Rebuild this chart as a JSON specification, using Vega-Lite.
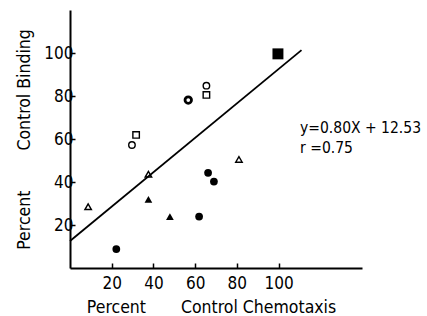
{
  "$schema": "https://vega.github.io/schema/vega-lite/v6.json",
  "autosize": "none",
  "width": 292,
  "height": 258,
  "padding": {"left": 70, "top": 10, "right": 65, "bottom": 48},
  "background": "white",
  "config": {
    "view": {"stroke": null},
    "font": "DejaVu Sans Condensed",
    "axis": {"grid": false, "domainColor": "black", "domainWidth": 2, "tickColor": "black", "tickWidth": 1.5, "labelColor": "black", "titleColor": "black", "labelFont": "DejaVu Sans Condensed", "titleFont": "DejaVu Sans Condensed", "titleFontWeight": "normal"}
  },
  "datasets": {
    "pts": [
      {"x": 29.7, "y": 57.2, "kind": "open", "shape": "circle"},
      {"x": 31.7, "y": 61.9, "kind": "open", "shape": "square"},
      {"x": 65.4, "y": 84.8, "kind": "open", "shape": "circle"},
      {"x": 65.4, "y": 80.5, "kind": "open", "shape": "square"},
      {"x": 8.7, "y": 28.5, "kind": "open", "shape": "triangle-up"},
      {"x": 37.6, "y": 43.6, "kind": "open", "shape": "triangle-up"},
      {"x": 81, "y": 50.5, "kind": "open", "shape": "triangle-up"},
      {"x": 37.6, "y": 31.9, "kind": "filled", "shape": "triangle-up"},
      {"x": 47.9, "y": 23.9, "kind": "filled", "shape": "triangle-up"},
      {"x": 22.2, "y": 8.8, "kind": "filled", "shape": "circle"},
      {"x": 61.9, "y": 23.9, "kind": "filled", "shape": "circle"},
      {"x": 66.2, "y": 44.3, "kind": "filled", "shape": "circle"},
      {"x": 69, "y": 40.2, "kind": "filled", "shape": "circle"},
      {"x": 56.7, "y": 78.1, "kind": "bold", "shape": "circle"},
      {"x": 99.7, "y": 99.6, "kind": "big", "shape": "square"}
    ],
    "fit": [
      {"x": 0, "y": 12.53},
      {"x": 111, "y": 101.33}
    ],
    "notes": [
      {"x": 110.3, "y": 65.1, "label": "y=0.80X + 12.53"},
      {"x": 110.3, "y": 55.8, "label": "r =0.75"}
    ]
  },
  "layer": [
    {
      "data": {"name": "fit"},
      "mark": {"type": "line", "color": "black", "strokeWidth": 1.8},
      "encoding": {
        "x": {"field": "x", "type": "quantitative", "scale": {"domain": [0, 140], "nice": false},
          "axis": {"values": [20, 40, 60, 80, 100], "tickSize": -5, "labelPadding": 12, "labelFontSize": 17, "titleFontSize": 17.5, "titlePadding": 7, "titleX": 141,
            "title": "Percent\u00a0\u00a0\u00a0\u00a0\u00a0\u00a0\u00a0Control Chemotaxis"}},
        "y": {"field": "y", "type": "quantitative", "scale": {"domain": [0, 120], "nice": false},
          "axis": {"values": [20, 40, 60, 80, 100], "tickSize": -5, "labelPadding": 2, "labelFontSize": 17, "titleFontSize": 17.5, "titlePadding": 10,
            "title": "Percent\u00a0\u00a0\u00a0\u00a0\u00a0\u00a0\u00a0\u00a0Control Binding"}}
      }
    },
    {
      "data": {"name": "pts"},
      "transform": [{"filter": "datum.kind === 'open'"}],
      "mark": {"type": "point", "filled": false, "stroke": "black", "strokeWidth": 1.4, "size": 42, "opacity": 1},
      "encoding": {
        "x": {"field": "x", "type": "quantitative"},
        "y": {"field": "y", "type": "quantitative"},
        "shape": {"field": "shape", "type": "nominal", "scale": null, "legend": null}
      }
    },
    {
      "data": {"name": "pts"},
      "transform": [{"filter": "datum.kind === 'filled'"}],
      "mark": {"type": "point", "filled": true, "fill": "black", "size": 60, "opacity": 1},
      "encoding": {
        "x": {"field": "x", "type": "quantitative"},
        "y": {"field": "y", "type": "quantitative"},
        "shape": {"field": "shape", "type": "nominal", "scale": null, "legend": null}
      }
    },
    {
      "data": {"name": "pts"},
      "transform": [{"filter": "datum.kind === 'bold'"}],
      "mark": {"type": "point", "filled": false, "stroke": "black", "strokeWidth": 2.8, "size": 42, "opacity": 1},
      "encoding": {
        "x": {"field": "x", "type": "quantitative"},
        "y": {"field": "y", "type": "quantitative"},
        "shape": {"field": "shape", "type": "nominal", "scale": null, "legend": null}
      }
    },
    {
      "data": {"name": "pts"},
      "transform": [{"filter": "datum.kind === 'big'"}],
      "mark": {"type": "point", "filled": true, "fill": "black", "size": 120, "opacity": 1},
      "encoding": {
        "x": {"field": "x", "type": "quantitative"},
        "y": {"field": "y", "type": "quantitative"},
        "shape": {"field": "shape", "type": "nominal", "scale": null, "legend": null}
      }
    },
    {
      "data": {"name": "notes"},
      "mark": {"type": "text", "align": "left", "baseline": "middle", "fontSize": 15.5, "font": "DejaVu Sans Condensed", "color": "black"},
      "encoding": {
        "x": {"field": "x", "type": "quantitative"},
        "y": {"field": "y", "type": "quantitative"},
        "text": {"field": "label"}
      }
    }
  ]
}
